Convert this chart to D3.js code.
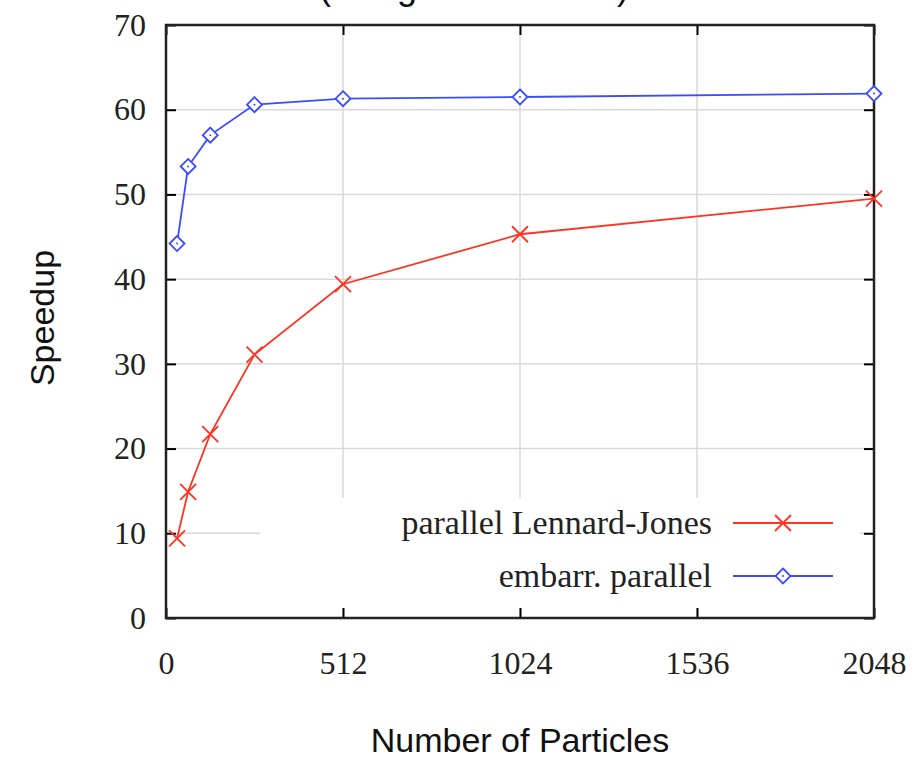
<!DOCTYPE html>
<html><head><meta charset="utf-8">
<script src="https://cdn.jsdelivr.net/npm/d3@7"></script>
<style>body{margin:0;background:#fff}</style>
</head><body>
<svg id="c" width="924" height="759"></svg>
<script>
const particles = [32, 64, 128, 256, 512, 1024, 2048];
const lennardJones = [9.4, 14.9, 21.7, 31.1, 39.4, 45.3, 49.5];
const embarrParallel = [44.2, 53.3, 57.0, 60.6, 61.3, 61.5, 61.9];
const xTicks = [0, 512, 1024, 1536, 2048];
const yTicks = [0, 10, 20, 30, 40, 50, 60, 70];
const seriesNames = ["parallel Lennard-Jones", "embarr. parallel"];

const svg = d3.select("#c");
const L = 166, R = 874, T = 25, B = 618;
const x = d3.scaleLinear().domain([0, 2048]).range([L, R]);
const y = d3.scaleLinear().domain([0, 70]).range([B, T]);
const serif = "Liberation Serif, Times New Roman, serif";
const sans = "Liberation Sans, Arial, sans-serif";

// title (mostly cut off at top, as in the reference)
svg.append("text").attr("x", 474).attr("y", -1).attr("text-anchor", "middle")
  .attr("font-family", sans).attr("font-size", 36).attr("fill", "#111")
  .text("(using 128 threads)");

// grid
const grid = svg.append("g").attr("stroke", "#d9d9d9").attr("stroke-width", 1.5);
xTicks.slice(1, -1).forEach(v => grid.append("line").attr("x1", x(v)).attr("x2", x(v)).attr("y1", T).attr("y2", B));
yTicks.slice(1, -1).forEach(v => grid.append("line").attr("x1", L).attr("x2", R).attr("y1", y(v)).attr("y2", y(v)));

// legend background hides grid
svg.append("rect").attr("x", 260).attr("y", 498).attr("width", 600).attr("height", 110).attr("fill", "#fff");

// axes with inward ticks
const tickLen = 10;
const fmt = d3.format("d");
const axB = svg.append("g").attr("transform", `translate(0,${B})`).call(d3.axisBottom(x).tickValues(xTicks).tickFormat(fmt).tickSizeInner(-tickLen).tickSizeOuter(0).tickPadding(33));
const axT = svg.append("g").attr("transform", `translate(0,${T})`).call(d3.axisTop(x).tickValues(xTicks).tickSizeInner(-tickLen).tickSizeOuter(0).tickFormat(""));
const axL = svg.append("g").attr("transform", `translate(${L},0)`).call(d3.axisLeft(y).tickValues(yTicks).tickFormat(fmt).tickSizeInner(-tickLen).tickSizeOuter(0).tickPadding(20));
const axR = svg.append("g").attr("transform", `translate(${R},0)`).call(d3.axisRight(y).tickValues(yTicks).tickSizeInner(-tickLen).tickSizeOuter(0).tickFormat(""));
[axB, axT, axL, axR].forEach(a => {
  a.select(".domain").remove();
  a.selectAll(".tick line").attr("stroke", "#000").attr("stroke-width", 2);
  a.selectAll("text").attr("font-family", serif).attr("font-size", 32).attr("fill", "#222");
});
axB.selectAll("text").attr("dy", "0.71em");
svg.append("rect").attr("x", L).attr("y", T).attr("width", R - L).attr("height", B - T)
  .attr("fill", "none").attr("stroke", "#222").attr("stroke-width", 2.5);

// axis titles
svg.append("text").attr("x", 520).attr("y", 752).attr("text-anchor", "middle")
  .attr("font-family", sans).attr("font-size", 34).attr("fill", "#111")
  .text("Number of Particles");
svg.append("text").attr("transform", "translate(54,318) rotate(-90)").attr("text-anchor", "middle")
  .attr("font-family", sans).attr("font-size", 34).attr("fill", "#111")
  .text("Speedup");

const red = "#ff3322", blue = "#3a4cff";
const line = d3.line().x((d, i) => x(particles[i])).y(d => y(d));

function cross(g, cx, cy, c) {
  const s = 8;
  g.append("path").attr("d", `M${cx - s},${cy - s}L${cx + s},${cy + s}M${cx - s},${cy + s}L${cx + s},${cy - s}`)
    .attr("stroke", c).attr("stroke-width", 1.8).attr("fill", "none");
}
function diamond(g, cx, cy, c) {
  const s = 7.5;
  g.append("path").attr("d", `M${cx},${cy - s}L${cx + s},${cy}L${cx},${cy + s}L${cx - s},${cy}Z`)
    .attr("stroke", c).attr("stroke-width", 1.8).attr("fill", "#fff");
  g.append("circle").attr("cx", cx).attr("cy", cy).attr("r", 1).attr("fill", c);
}

const gR = svg.append("g");
gR.append("path").datum(lennardJones).attr("d", line).attr("fill", "none").attr("stroke", red).attr("stroke-width", 1.8);
lennardJones.forEach((v, i) => cross(gR, x(particles[i]), y(v), red));

const gB = svg.append("g");
gB.append("path").datum(embarrParallel).attr("d", line).attr("fill", "none").attr("stroke", blue).attr("stroke-width", 1.8);
embarrParallel.forEach((v, i) => diamond(gB, x(particles[i]), y(v), blue));

// legend
const legY = [523, 576];
const legColors = [red, blue];
seriesNames.forEach((n, i) => {
  svg.append("text").attr("x", 712).attr("y", legY[i]).attr("dy", "0.33em").attr("text-anchor", "end")
    .attr("font-family", serif).attr("font-size", 34).attr("fill", "#222").text(n);
  svg.append("line").attr("x1", 733).attr("x2", 833).attr("y1", legY[i]).attr("y2", legY[i])
    .attr("stroke", legColors[i]).attr("stroke-width", 1.8);
  if (i === 0) cross(svg, 783, legY[i], red); else diamond(svg, 783, legY[i], blue);
});
</script>
</body></html>
